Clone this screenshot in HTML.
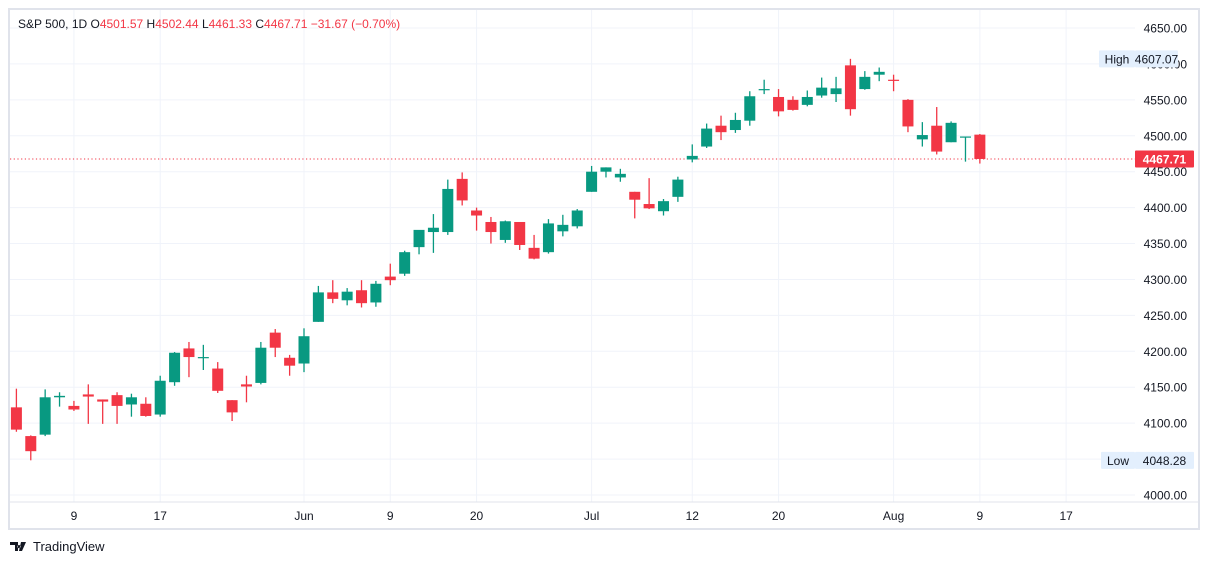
<!DOCTYPE html>
<html><head><meta charset="utf-8">
<style>
body{margin:0;background:#fff;font-family:"Liberation Sans",sans-serif;}
svg text{font-family:"Liberation Sans",sans-serif;}
</style></head>
<body>
<svg id="chart" width="1209" height="564" viewBox="0 0 1209 564" xmlns="http://www.w3.org/2000/svg">
<rect x="9" y="9" width="1190" height="520" fill="#fff" stroke="#e0e3eb" stroke-width="2"/>
<g id="grid"></g>
<g id="candles"></g>
<line x1="10" y1="502" x2="1198" y2="502" stroke="#e0e3eb" stroke-width="1"/>
<g id="yaxis"></g>
<g id="xaxis"></g>
<text x="18" y="28" font-size="12" fill="#131722">S&amp;P 500, 1D  O<tspan fill="#f23645">4501.57</tspan>  H<tspan fill="#f23645">4502.44</tspan>  L<tspan fill="#f23645">4461.33</tspan>  C<tspan fill="#f23645">4467.71</tspan>  <tspan fill="#f23645">−31.67 (−0.70%)</tspan></text>
<g>
<path d="M10 542h8v9h-3v-6h-5z M19 545a1.6 1.6 0 1 0 0.01 0z M21 542h5l-4 9h-3z" fill="#131722"/>
<text x="33" y="551" font-size="13" fill="#131722">TradingView</text>
</g>
</svg>
<script>
const dates=["May 3","May 4","May 5","May 8","May 9","May 10","May 11","May 12","May 15","May 16","May 17","May 18","May 19","May 22","May 23","May 24","May 25","May 26","May 30","May 31","Jun 1","Jun 2","Jun 5","Jun 6","Jun 7","Jun 8","Jun 9","Jun 12","Jun 13","Jun 14","Jun 15","Jun 16","Jun 20","Jun 21","Jun 22","Jun 23","Jun 26","Jun 27","Jun 28","Jun 29","Jun 30","Jul 3","Jul 5","Jul 6","Jul 7","Jul 10","Jul 11","Jul 12","Jul 13","Jul 14","Jul 17","Jul 18","Jul 19","Jul 20","Jul 21","Jul 24","Jul 25","Jul 26","Jul 27","Jul 28","Jul 31","Aug 1","Aug 2","Aug 3","Aug 4","Aug 7","Aug 8","Aug 9"];
const opens=[4122,4082,4084,4136,4124,4140,4133,4139,4126,4127,4112,4157,4204,4191,4176,4132,4154,4156,4226,4191,4183,4241,4282,4271,4285,4268,4304,4308,4345,4366,4366,4440,4396,4380,4355,4380,4344,4338,4367,4374,4422,4450,4442,4422,4405,4395,4415,4467,4485,4514,4508,4521,4565,4554,4550,4543,4556,4558,4598,4565,4585,4578,4550,4495,4514,4491,4498,4501.57];
const highs=[4148,4083,4147,4143,4131,4154,4133,4143,4141,4136,4166,4199,4213,4209,4185,4132,4166,4213,4231,4195,4232,4291,4299,4288,4299,4298,4322,4340,4362,4391,4439,4449,4400,4387,4382,4367,4362,4384,4390,4398,4458,4456,4454,4422,4441,4412,4443,4488,4517,4528,4532,4562,4578,4565,4555,4563,4581,4582,4607.07,4590,4595,4585,4551,4519,4540,4520,4498,4502.44];
const lows=[4088,4048.28,4082,4123,4117,4099,4099,4099,4109,4109,4109,4152,4164,4174,4142,4103,4129,4154,4192,4166,4171,4241,4267,4264,4261,4262,4292,4305,4335,4337,4362,4403,4368,4350,4351,4341,4328,4336,4360,4371,4422,4442,4436,4385,4398,4389,4408,4463,4483,4494,4504,4514,4558,4527,4535,4541,4553,4547,4528,4564,4576,4562,4505,4485,4474,4491,4464,4461.33];
const closes=[4091,4061,4136,4138,4119,4137,4130,4124,4136,4110,4159,4198,4192,4192,4145,4115,4151,4205,4205,4180,4221,4282,4273,4283,4267,4294,4299,4338,4369,4372,4426,4410,4389,4366,4381,4348,4329,4378,4376,4396,4450,4456,4447,4411,4399,4409,4439,4472,4510,4505,4522,4555,4565,4534,4536,4554,4567,4566,4537,4582,4589,4577,4513,4501,4478,4518,4499,4467.71];
const priceTicks=[4000,4050,4100,4150,4200,4250,4300,4350,4400,4450,4500,4550,4600,4650];
const timeLabels=["9","17","Jun","9","20","Jul","12","20","Aug","9","17"];
const timeLabelIdx=[4,10,20,26,32,40,47,53,61,67,73];

const NS="http://www.w3.org/2000/svg";
function y(p){return 495-(p-4000)*467/650;}
function x(i){return 16.4+i*14.38;}
function mk(tag,attrs,parent){const e=document.createElementNS(NS,tag);for(const k in attrs)e.setAttribute(k,attrs[k]);parent.appendChild(e);return e;}
const grid=document.getElementById('grid'),cg=document.getElementById('candles'),ya=document.getElementById('yaxis'),xa=document.getElementById('xaxis');
priceTicks.forEach(p=>{
  const l=mk('line',{x1:10,x2:1135,y1:y(p),y2:y(p),stroke:'#f0f3fa','stroke-width':1},grid);
  
  
  const t=mk('text',{x:1187,y:y(p)+4.5,'font-size':12,fill:'#131722','text-anchor':'end'},ya);
  t.textContent=p.toFixed(2);
  
  
});
timeLabels.forEach((s,k)=>{
  const xx=x(timeLabelIdx[k]);
  const l=mk('line',{x1:xx,x2:xx,y1:10,y2:502,stroke:'#f0f3fa','stroke-width':1},grid);
  
  
  const t=mk('text',{x:xx,y:520,'font-size':12,fill:'#131722','text-anchor':'middle'},xa);
  t.textContent=s;
  
  
});
opens.forEach((o,i)=>{
  const c=closes[i],up=c>=o,col=up?'#089981':'#f23645',xx=x(i);
  const g=mk('g',{},cg);
  
  
  mk('line',{x1:xx,x2:xx,y1:y(highs[i]),y2:y(lows[i]),stroke:col,'stroke-width':1.3},g);
  const top=y(Math.max(o,c)),bot=y(Math.min(o,c));
  mk('rect',{x:xx-5.5,y:top,width:11,height:Math.max(1.2,bot-top),fill:col},g);
});
// last price line and labels
const last=closes[closes.length-1];
const ll=mk('line',{x1:10,x2:1135,y1:y(last),y2:y(last),stroke:'#f23645','stroke-width':1,'stroke-dasharray':'1.2 2.5'},grid);


function badge(x0,w,yy,bg,fg,txt,name){
  const g=mk('g',{},ya);
  
  
  mk('rect',{x:x0,y:yy-8.5,width:w,height:17,fill:bg,rx:1},g);
  const t=mk('text',{x:x0+w/2,y:yy+4.5,'font-size':12,fill:fg,'text-anchor':'middle','font-weight':fg=='#fff'?'bold':'normal'},g);
  t.textContent=txt;
}
const hi=Math.max(...highs),lo=Math.min(...lows);
badge(1099,36,y(hi),'#e3effd','#131722','High','high-badge');
badge(1135,43,y(hi),'#e3effd','#131722',hi.toFixed(2),'high-value-badge');
badge(1101,34,y(lo),'#e3effd','#131722','Low','low-badge');
badge(1135,59,y(lo),'#e3effd','#131722',lo.toFixed(2),'low-value-badge');
badge(1135,59,y(last),'#f23645','#fff',last.toFixed(2),'last-price-badge');
</script>
</body></html>
